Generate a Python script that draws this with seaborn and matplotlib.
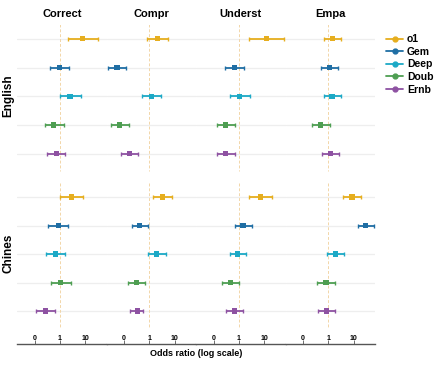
import numpy as np
import pandas as pd
import matplotlib
matplotlib.use("Agg")
import matplotlib.pyplot as plt
from matplotlib.lines import Line2D
import seaborn as sns

metrics = ["Correct", "Compr", "Underst", "Empa"]
models = ["o1", "Gem", "Deep", "Doub", "Ernb"]
languages = ["English", "Chines"]
colors = ["#E6AE1E", "#1F6EA4", "#1CA9C6", "#4E9E52", "#8E52A2"]

# rows = models, columns = metrics
en_est = [[8.1, 2.1, 12.0, 1.46],
          [0.95, 0.052, 0.65, 1.1],
          [2.5, 1.18, 1.07, 1.4],
          [0.57, 0.064, 0.29, 0.5],
          [0.73, 0.167, 0.29, 1.18]]
en_lo = [[2.1, 0.8, 2.5, 0.67],
         [0.4, 0.024, 0.29, 0.52],
         [1.0, 0.5, 0.45, 0.67],
         [0.25, 0.029, 0.135, 0.22],
         [0.3, 0.076, 0.13, 0.54]]
en_hi = [[31.0, 5.6, 63.0, 3.3],
         [2.36, 0.117, 1.55, 2.4],
         [7.0, 3.0, 2.67, 3.2],
         [1.4, 0.15, 0.69, 1.15],
         [1.6, 0.36, 0.67, 2.6]]

zh_est = [[2.8, 3.3, 7.0, 8.6],
          [0.85, 0.42, 1.46, 29.5],
          [0.69, 1.9, 0.9, 1.9],
          [1.05, 0.3, 0.48, 0.8],
          [0.26, 0.35, 0.69, 0.87]]
zh_lo = [[1.0, 1.33, 2.6, 3.9],
         [0.33, 0.21, 0.67, 14.4],
         [0.28, 0.87, 0.44, 0.87],
         [0.44, 0.14, 0.22, 0.34],
         [0.11, 0.165, 0.32, 0.4]]
zh_hi = [[8.1, 7.8, 20.0, 19.4],
         [2.1, 0.87, 3.2, 63.0],
         [1.64, 4.5, 1.97, 4.2],
         [2.66, 0.67, 1.05, 1.8],
         [0.62, 0.56, 1.46, 1.9]]

tick_vals = [0.1, 1, 10]
tick_labels = ["0", "1", "10"]

rows = []
for lang, est, lo, hi in [("English", en_est, en_lo, en_hi),
                          ("Chines", zh_est, zh_lo, zh_hi)]:
    for i, m in enumerate(models):
        for j, met in enumerate(metrics):
            rows.append(dict(lang=lang, model=m, metric=met, pos=i,
                             est=est[i][j], lo=lo[i][j], hi=hi[i][j]))
df = pd.DataFrame(rows)

sns.set_theme(style="white")
plt.rcParams["font.family"] = ["Liberation Sans", "DejaVu Sans"]
plt.rcParams["text.color"] = "black"
plt.rcParams["xtick.color"] = "black"

fig = plt.figure(figsize=(4.4, 3.67), dpi=100)
W, H = 440, 367
left0, pw = 17, 89.5
row_box = {"English": (25, 173), "Chines": (180, 344)}
row_ylim = {"English": (4.67, -0.48), "Chines": (5.16, -0.6)}
palette = dict(zip(models, colors))

for r, lang in enumerate(languages):
    top, bot = row_box[lang]
    for c, met in enumerate(metrics):
        ax = fig.add_axes([(left0 + c * pw) / W, 1 - bot / H, pw / W, (bot - top) / H])
        sub = df[(df.lang == lang) & (df.metric == met)]
        for k in range(len(models)):
            ax.axhline(k, color="#eeeeee", lw=0.9, zorder=0)
        ax.plot([1, 1], [-0.5, 4.6], color="#f2d6a8", lw=0.7, ls=(0, (3, 2)), zorder=1)
        for _, s in sub.iterrows():
            ax.errorbar(s.est, s.pos, xerr=[[s.est - s.lo], [s.hi - s.est]],
                        fmt="none", ecolor=palette[s.model], elinewidth=1.3,
                        capsize=1.6, capthick=1.0, zorder=2)
        sns.scatterplot(data=sub, x="est", y="pos", hue="model", palette=palette,
                        marker="s", s=14, linewidth=0, legend=False, ax=ax, zorder=3)
        ax.set_xscale("log")
        ax.set_xlim(0.02, 70)
        ax.set_ylim(*row_ylim[lang])
        ax.set_yticks([])
        ax.set_xlabel("")
        ax.set_ylabel("")
        for sp in ax.spines.values():
            sp.set_visible(False)
        ax.minorticks_off()
        if lang == "Chines":
            ax.spines["bottom"].set_visible(True)
            ax.spines["bottom"].set_color("#555555")
            ax.spines["bottom"].set_linewidth(1.0)
            ax.set_xticks(tick_vals)
            ax.set_xticklabels(tick_labels, fontsize=5, fontweight="bold")
            ax.tick_params(axis="x", direction="in", length=3, width=0.6,
                           color="#555555", labelcolor="black", pad=-6.5, bottom=True)
        else:
            ax.set_xticks([])
            fig.text((left0 + c * pw + pw / 2) / W, 1 - 14 / H, met,
                     ha="center", va="center", fontsize=8, fontweight="bold")

fig.text(8.5 / W, 1 - 96 / H, "English", rotation=90, ha="center", va="center",
         fontsize=8.5, fontweight="bold")
fig.text(8.5 / W, 1 - 253 / H, "Chines", rotation=90, ha="center", va="center",
         fontsize=8.5, fontweight="bold")
fig.text(196 / W, 1 - 354 / H, "Odds ratio (log scale)", ha="center", va="center",
         fontsize=6.5, fontweight="bold")

handles = [Line2D([0], [0], color=col, marker="o", markersize=3.5, lw=1.3)
           for col in colors]
fig.legend(handles, models, loc="upper left", bbox_to_anchor=(382 / W, 1 - 30 / H),
           frameon=False, handlelength=1.6, handletextpad=0.4, labelspacing=0.25,
           prop={"weight": "bold", "size": 7.5}, borderaxespad=0)

fig.savefig("out.png", dpi=100)
